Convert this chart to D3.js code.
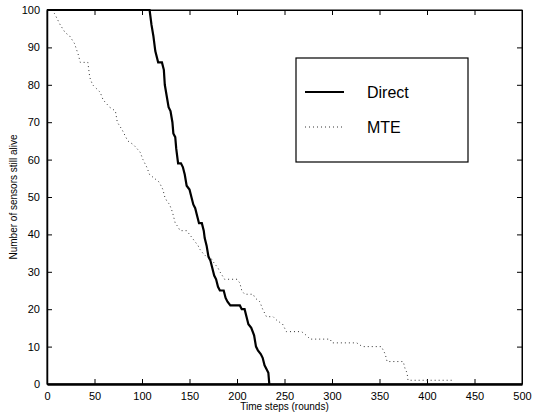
<!DOCTYPE html>
<html>
<head>
<meta charset="utf-8">
<script src="https://cdn.jsdelivr.net/npm/d3@7"></script>
<style>
body{margin:0;background:#fff;}
svg{display:block;font-family:"Liberation Sans",Arial,sans-serif;}
</style>
</head>
<body>
<svg id="chart" width="533" height="414"></svg>
<script>
const seriesNames = ["Direct", "MTE"];
const xTicks = [0,50,100,150,200,250,300,350,400,450,500];
const yTicks = [0,10,20,30,40,50,60,70,80,90,100];

const directRounds = [0,108,110,112,114,117,121,123,124,126,128,130,132,133,135,136,138,141,143,145,147,150,152,154,156,158,160,163,165,166,168,170,172,174,176,178,180,182,186,188,190,193,203,205,208,210,212,215,218,220,222,225,227,229,231,233,234];
const directAlive  = [100,100,96,93,89,86,86,84,80,77,74,73,70,67,66,63,59,59,58,56,53,52,50,48,47,45,43,43,41,39,37,34,33,31,29,28,26,25,25,23,22,21,21,20,20,18,16,15,13,10,9,8,7,5,4,3,0];

const mteRounds = [5,8,14,19,24,29,33,35,43,45,48,56,59,66,72,74,79,85,91,98,101,105,108,113,118,122,124,126,129,132,133,135,138,140,147,150,153,156,159,161,164,168,172,174,177,180,182,187,200,203,205,208,217,219,224,227,229,231,238,242,248,252,268,273,277,298,300,326,332,352,354,356,358,375,377,379,380,429];
const mteAlive  = [100,99,96,94,93,91,88,86,86,82,80,78,76,74,73,70,68,65,64,62,60,58,56,55,54,52,50,49,48,46,45,43,42,41,41,40,39,38,37,36,35,34,34,33,32,31,30,28,28,27,25,24,24,23,22,20,19,18,18,17,16,14,14,13,12,12,11,11,10,10,9,8,6,6,4,3,1,1];

const svg = d3.select("#chart");
const L = 47, R = 522, T = 10, B = 384;
const x = d3.scaleLinear().domain([0,500]).range([L,R]);
const y = d3.scaleLinear().domain([0,100]).range([B,T]);

svg.append("rect").attr("x",L).attr("y",T).attr("width",R-L).attr("height",B-T)
  .attr("fill","none").attr("stroke","#000").attr("stroke-width",1);

const tl = 5;
const gx = svg.append("g").attr("transform",`translate(0,${B})`)
  .call(d3.axisBottom(x).tickValues(xTicks).tickSizeInner(-tl).tickSizeOuter(0).tickPadding(tl+3));
gx.select(".domain").attr("stroke-width",2.5);
gx.selectAll("text").attr("font-size",11).attr("fill","#000");
svg.append("g").attr("transform",`translate(0,${T})`)
  .call(d3.axisTop(x).tickValues(xTicks).tickSizeInner(-tl).tickSizeOuter(0).tickFormat(""));
const gy = svg.append("g").attr("transform",`translate(${L},0)`)
  .call(d3.axisLeft(y).tickValues(yTicks).tickSizeInner(-tl).tickSizeOuter(0).tickPadding(tl+2));
gy.select(".domain").attr("stroke-width",1.5);
gy.selectAll("text").attr("font-size",11).attr("fill","#000");
svg.append("g").attr("transform",`translate(${R},0)`)
  .call(d3.axisRight(y).tickValues(yTicks).tickSizeInner(-tl).tickSizeOuter(0).tickFormat(""));

const line = d3.line().x(d=>x(d[0])).y(d=>y(d[1]));
const directData = directRounds.map((r,i)=>[r,directAlive[i]]);
const mteData = mteRounds.map((r,i)=>[r,mteAlive[i]]);

svg.append("path").datum(mteData).attr("d",line)
  .attr("fill","none").attr("stroke","#333").attr("stroke-width",1)
  .attr("stroke-dasharray","1,3");
svg.append("path").datum(directData).attr("d",line)
  .attr("fill","none").attr("stroke","#000").attr("stroke-width",2.2)
  .attr("stroke-linejoin","miter");

svg.append("text").attr("x",(L+R)/2).attr("y",410).attr("text-anchor","middle")
  .attr("font-size",10).text("Time steps (rounds)");
svg.append("text").attr("transform",`translate(17,${(T+B)/2}) rotate(-90)`)
  .attr("text-anchor","middle").attr("font-size",10).text("Number of sensors still alive");

const lg = svg.append("g");
lg.append("rect").attr("x",296).attr("y",58).attr("width",172).attr("height",104)
  .attr("fill","#fff").attr("stroke","#000").attr("stroke-width",1.2);
lg.append("line").attr("x1",305).attr("x2",344).attr("y1",92).attr("y2",92)
  .attr("stroke","#000").attr("stroke-width",2.2);
lg.append("line").attr("x1",305).attr("x2",344).attr("y1",127).attr("y2",127)
  .attr("stroke","#333").attr("stroke-width",1).attr("stroke-dasharray","1,3");
lg.append("text").attr("x",367).attr("y",98).attr("font-size",16).text(seriesNames[0]);
lg.append("text").attr("x",367).attr("y",133).attr("font-size",16).text(seriesNames[1]);
</script>
</body>
</html>
